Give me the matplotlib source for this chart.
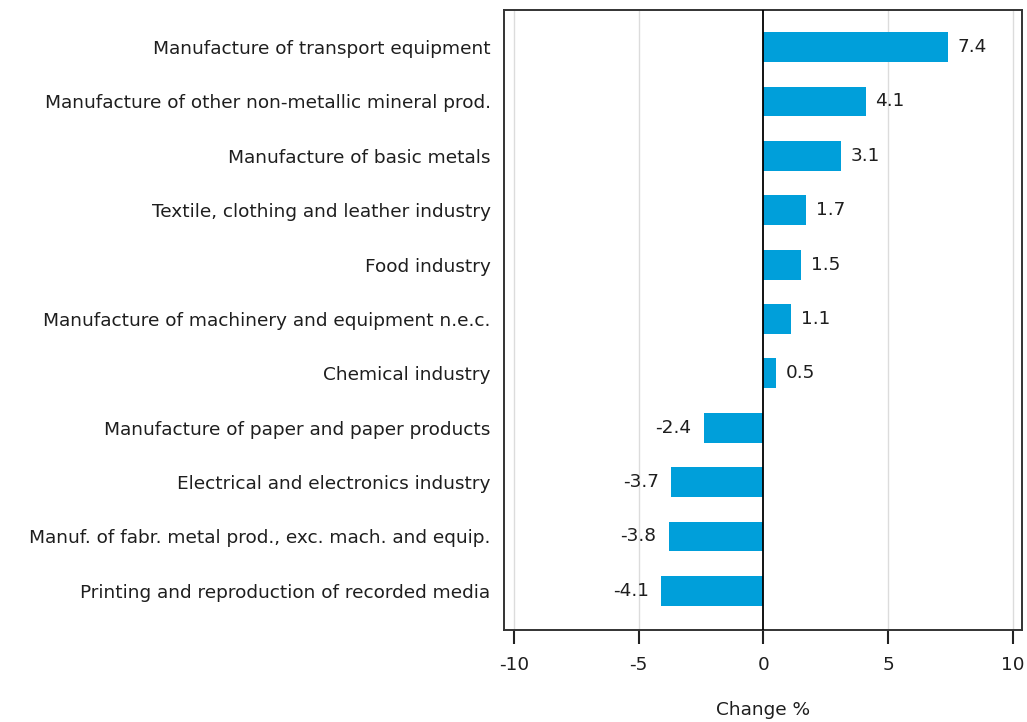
import matplotlib
matplotlib.use("Agg")
import matplotlib.pyplot as plt

categories = [
    "Manufacture of transport equipment",
    "Manufacture of other non-metallic mineral prod.",
    "Manufacture of basic metals",
    "Textile, clothing and leather industry",
    "Food industry",
    "Manufacture of machinery and equipment n.e.c.",
    "Chemical industry",
    "Manufacture of paper and paper products",
    "Electrical and electronics industry",
    "Manuf. of fabr. metal prod., exc. mach. and equip.",
    "Printing and reproduction of recorded media",
]
values = [7.4, 4.1, 3.1, 1.7, 1.5, 1.1, 0.5, -2.4, -3.7, -3.8, -4.1]
xticks = [-10, -5, 0, 5, 10]
xlabel = "Change %"

plt.rcParams['font.family'] = ['DejaVu Sans']
FS = 13.3
TXT = "#1e1e1e"

fig = plt.figure(figsize=(10.27, 7.22), dpi=100)
ax = fig.add_axes([0.4912, 0.1274, 0.5039, 0.8586])

ypos = list(range(len(categories)))
ax.barh(ypos, values, height=0.55, color="#009FDA", zorder=3)
ax.set_ylim(len(categories) - 1 + 0.72, -0.68)
ax.set_xlim(-10.38, 10.36)
ax.set_yticks(ypos)
ax.set_yticklabels(categories, fontsize=FS, color=TXT)
ax.tick_params(axis='y', length=0, pad=10)
ax.set_xticks(xticks)
ax.set_xticklabels([str(t) for t in xticks], fontsize=FS, color=TXT)
ax.tick_params(axis='x', length=10, width=1.5, pad=9, direction='out', color="#222222")
for x in xticks:
    if x != 0:
        ax.axvline(x, color="#dcdcdc", lw=1, zorder=1)
ax.axvline(0, color="black", lw=1.3, zorder=4)
for s in ax.spines.values():
    s.set_linewidth(1.4)
    s.set_color("#333333")
ax.set_xlabel(xlabel, fontsize=FS, labelpad=19, color=TXT)

for y, v in zip(ypos, values):
    if v >= 0:
        ax.annotate(f"{v:.1f}", (v, y), xytext=(7, 0), textcoords="offset points",
                    va='center', ha='left', fontsize=FS, color=TXT, zorder=5)
    else:
        ax.annotate(f"{v:.1f}", (v, y), xytext=(-9, 0), textcoords="offset points",
                    va='center', ha='right', fontsize=FS, color=TXT, zorder=5)

fig.savefig("out.png", dpi=100)
